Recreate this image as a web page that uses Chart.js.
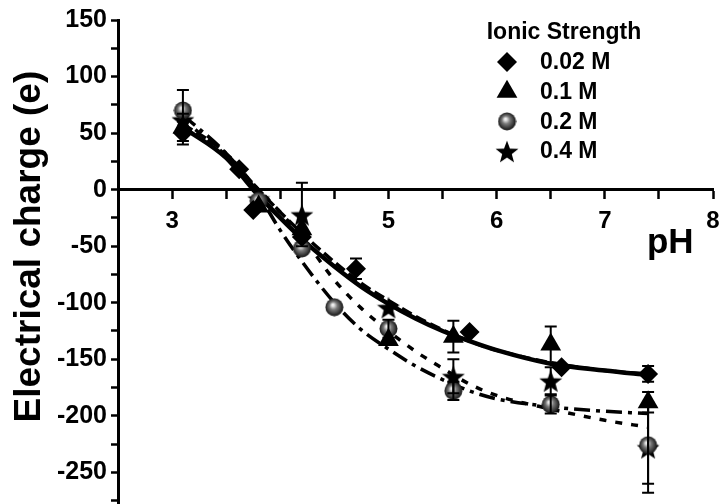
<!DOCTYPE html>
<html>
<head>
<meta charset="utf-8">
<script src="https://cdn.jsdelivr.net/npm/chart.js@4.4.0/dist/chart.umd.min.js"></script>
<style>
  html, body { margin: 0; padding: 0; background: #fff; }
  #marco { position: relative; width: 723px; height: 504px; }
</style>
</head>
<body>
<div id="marco"><canvas id="myChart" width="723" height="504"></canvas></div>
<script>
// Datos (pH, carga y barra de error)
var phDiamante = [3.1, 3.62, 3.75, 4.2, 4.7, 5.75, 6.6, 7.4];
var qDiamante = [50, 18, -18, -42, -70, -126, -157, -163];
var errDiamante = [10, 0, 0, 0, 9, 0, 0, 7];

var phTriangulo = [3.1, 3.8, 4.2, 5.0, 5.6, 6.5, 7.4];
var qTriangulo = [55, -15, -35, -133, -130, -137, -188];
var errTriangulo = [12, 0, 0, 0, 14, 16, 9];

var phCirculo = [3.1, 3.8, 4.2, 4.5, 5.0, 5.6, 6.5, 7.4];
var qCirculo = [70, -10, -52, -104, -123, -178, -190, -226];
var errCirculo = [18, 0, 0, 0, 8, 8, 8, 34];

var phEstrella = [3.1, 3.8, 4.2, 5.0, 5.6, 6.5, 7.4];
var qEstrella = [62, -8, -22, -104, -165, -169, -228];
var errEstrella = [0, 0, 28, 0, 15, 12, 40];

// Curvas de ajuste
var phAjuste = [3.1, 3.5, 3.75, 4.0, 4.25, 4.5, 4.75, 5.0, 5.25, 5.5, 5.75, 6.0, 6.5, 7.0, 7.4];
var ajusteDiamante = [55, 28, 0, -25, -48, -68, -86, -101, -114, -125, -134, -142, -154, -160, -164];
var ajusteTriangulo = [58, 32, 5, -20, -43, -64, -83, -98, -112, -124, -134, -142, -153, -160, -163];
var ajusteCirculo = [66, 32, 3, -36, -70, -100, -124, -141, -156, -168, -178, -185, -192, -196, -198];
var ajusteEstrella = [62, 30, 5, -20, -48, -80, -105, -125, -143, -158, -172, -182, -194, -204, -210];

var etiquetas = ['0.02 M', '0.1 M', '0.2 M', '0.4 M'];
var tituloLeyenda = 'Ionic Strength';

function puntos(xs, ys) {
  return xs.map(function (v, i) { return { x: v, y: ys[i] }; });
}

// Marcadores dibujados en un canvas pequeño
function hacerEstrella(tam) {
  var c = document.createElement('canvas');
  c.width = tam; c.height = tam;
  var g = c.getContext('2d');
  var r1 = tam / 2, r2 = r1 * 0.42;
  g.beginPath();
  for (var i = 0; i < 10; i++) {
    var r = i % 2 == 0 ? r1 : r2;
    var a = -Math.PI / 2 + i * Math.PI / 5;
    g.lineTo(tam / 2 + r * Math.cos(a), tam / 2 + 1.5 + r * Math.sin(a));
  }
  g.closePath();
  g.fillStyle = '#000';
  g.fill();
  return c;
}

function hacerEsfera(tam) {
  var c = document.createElement('canvas');
  c.width = tam; c.height = tam;
  var g = c.getContext('2d');
  var grad = g.createRadialGradient(tam * 0.42, tam * 0.38, 1, tam / 2, tam / 2, tam / 2);
  grad.addColorStop(0, '#eeeeee');
  grad.addColorStop(0.35, '#7a7a7a');
  grad.addColorStop(1, '#0a0a0a');
  g.beginPath();
  g.arc(tam / 2, tam / 2, tam / 2 - 0.5, 0, 2 * Math.PI);
  g.fillStyle = grad;
  g.fill();
  return c;
}

var estrella = hacerEstrella(24);
var esfera = hacerEsfera(19);

var series = [
  { ph: phDiamante, q: qDiamante, err: errDiamante },
  { ph: phTriangulo, q: qTriangulo, err: errTriangulo },
  { ph: phCirculo, q: qCirculo, err: errCirculo },
  { ph: phEstrella, q: qEstrella, err: errEstrella }
];
var estilos = [
  { pointStyle: 'rectRot', radius: 10 },
  { pointStyle: 'triangle', radius: 12 },
  { pointStyle: esfera, radius: 9 },
  { pointStyle: estrella, radius: 12 }
];

// Barras de error
var pluginErrores = {
  id: 'errores',
  afterDatasetsDraw: function (chart) {
    var ctx = chart.ctx, xs = chart.scales.x, ys = chart.scales.y;
    ctx.save();
    ctx.strokeStyle = '#000';
    ctx.lineWidth = 2;
    series.forEach(function (s) {
      for (var i = 0; i < s.ph.length; i++) {
        var e = s.err[i];
        if (!e) continue;
        var px = xs.getPixelForValue(s.ph[i]);
        var y1 = ys.getPixelForValue(s.q[i] + e);
        var y2 = ys.getPixelForValue(s.q[i] - e);
        ctx.beginPath();
        ctx.moveTo(px, y1); ctx.lineTo(px, y2);
        ctx.moveTo(px - 6, y1); ctx.lineTo(px + 6, y1);
        ctx.moveTo(px - 6, y2); ctx.lineTo(px + 6, y2);
        ctx.stroke();
      }
    });
    ctx.restore();
  }
};

// Leyenda en la esquina superior derecha
var pluginLeyenda = {
  id: 'leyendaPropia',
  afterDraw: function (chart) {
    var ctx = chart.ctx;
    ctx.save();
    ctx.fillStyle = '#000';
    ctx.textBaseline = 'middle';
    ctx.font = "bold 23px 'Liberation Sans', Arial, sans-serif";
    ctx.textAlign = 'center';
    ctx.fillText(tituloLeyenda, 564, 33);
    ctx.textAlign = 'left';
    for (var i = 0; i < etiquetas.length; i++) {
      var y = 62 + i * 29.7;
      Chart.helpers.drawPoint(ctx, {
        pointStyle: estilos[i].pointStyle,
        radius: estilos[i].radius,
        rotation: 0,
        borderWidth: 0
      }, 507, y);
      ctx.fillStyle = '#000';
      ctx.fillText(etiquetas[i], 540, y + 1);
    }
    ctx.restore();
  }
};

Chart.defaults.font.family = "'Liberation Sans', Arial, sans-serif";
Chart.defaults.font.weight = 'bold';
Chart.defaults.color = '#000';

var datasets = [];
series.forEach(function (s, i) {
  datasets.push({
    type: 'scatter',
    label: etiquetas[i],
    data: puntos(s.ph, s.q),
    pointStyle: estilos[i].pointStyle,
    pointRadius: estilos[i].radius,
    pointHoverRadius: estilos[i].radius,
    backgroundColor: '#000',
    borderColor: '#000',
    borderWidth: 0,
    order: 0
  });
});

var ajustes = [ajusteDiamante, ajusteTriangulo, ajusteCirculo, ajusteEstrella];
var guiones = [[], [11, 5], [16, 6, 4, 6], [7, 9]];
var grosores = [4.5, 3.5, 3.5, 3.5];
ajustes.forEach(function (a, i) {
  datasets.push({
    type: 'line',
    label: 'ajuste ' + etiquetas[i],
    data: puntos(phAjuste, a),
    borderColor: '#000',
    borderWidth: grosores[i],
    borderDash: guiones[i],
    pointRadius: 0,
    fill: false,
    cubicInterpolationMode: 'monotone',
    order: 1
  });
});

var ctx = document.getElementById('myChart').getContext('2d');
var myChart = new Chart(ctx, {
  type: 'scatter',
  data: { datasets: datasets },
  options: {
    responsive: false,
    animation: false,
    devicePixelRatio: 1,
    layout: { autoPadding: false, padding: { top: 20, right: 10, left: 0, bottom: 0 } },
    plugins: {
      legend: { display: false },
      tooltip: { enabled: false }
    },
    scales: {
      x: {
        type: 'linear',
        position: { y: 0 },
        min: 2.5,
        max: 8,
        ticks: {
          stepSize: 0.5,
          includeBounds: false,
          autoSkip: false,
          maxRotation: 0,
          padding: 9,
          font: { size: 24, weight: 'bold' },
          color: '#000',
          callback: function (v) { return (Number.isInteger(v) && v !== 4) ? v : ''; }
        },
        grid: { drawOnChartArea: false, tickLength: 8, tickWidth: 2.5, tickColor: '#000' },
        border: { color: '#000', width: 3 },
        title: {
          display: true,
          text: 'pH  ',
          align: 'end',
          color: '#000',
          font: { size: 35, weight: 'bold' },
          padding: { top: -22, bottom: 0 }
        },
        afterFit: function (s) {
          s.paddingRight = 0;
        }
      },
      y: {
        min: -278,
        max: 150,
        ticks: {
          stepSize: 25,
          includeBounds: false,
          autoSkip: false,
          padding: 4,
          font: { size: 25, weight: 'bold' },
          color: '#000',
          callback: function (v) { return v % 50 === 0 ? v : ''; }
        },
        grid: { drawOnChartArea: false, tickLength: 7, tickWidth: 2.5, tickColor: '#000' },
        border: { color: '#000', width: 3 },
        title: {
          display: true,
          text: '   Electrical charge (e)',
          color: '#000',
          font: { size: 37, weight: 'bold' },
          padding: { top: 8, bottom: 0 }
        },
        afterFit: function (s) {
          s.width = 118;
          s.paddingBottom = 0;
        }
      }
    }
  },
  plugins: [pluginErrores, pluginLeyenda]
});
</script>
</body>
</html>
